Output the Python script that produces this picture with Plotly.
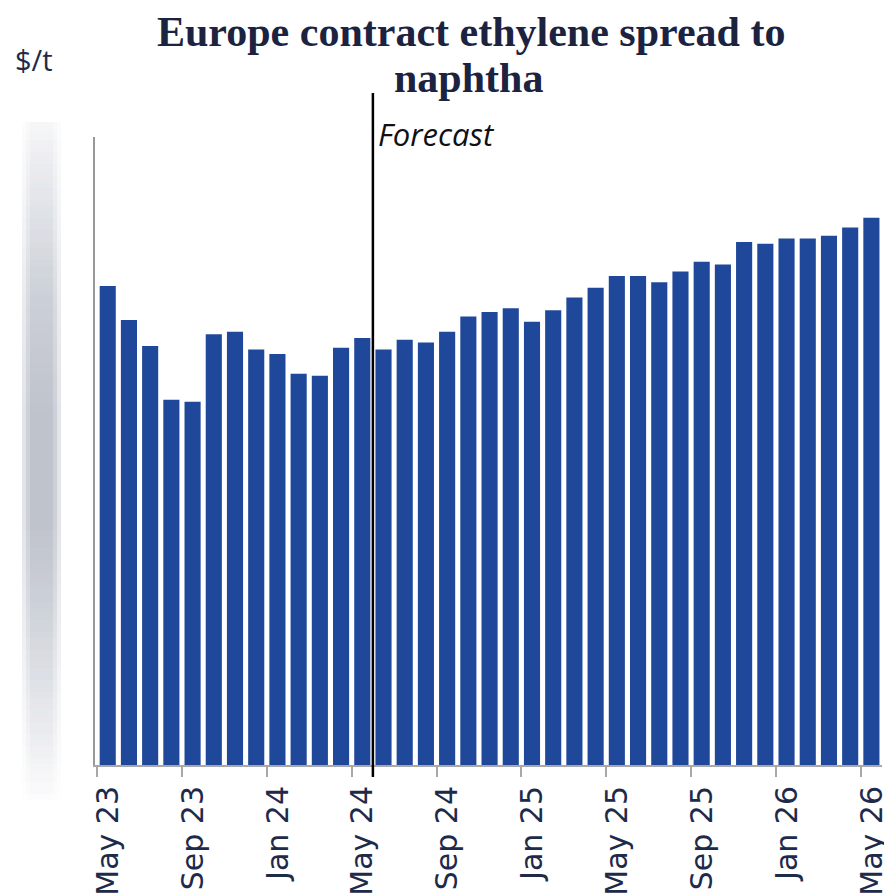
import plotly.graph_objects as go
import numpy as np

# ---- data ----
months = ["May 23", "Jun 23", "Jul 23", "Aug 23", "Sep 23", "Oct 23", "Nov 23", "Dec 23",
          "Jan 24", "Feb 24", "Mar 24", "Apr 24", "May 24", "Jun 24", "Jul 24", "Aug 24",
          "Sep 24", "Oct 24", "Nov 24", "Dec 24", "Jan 25", "Feb 25", "Mar 25", "Apr 25",
          "May 25", "Jun 25", "Jul 25", "Aug 25", "Sep 25", "Oct 25", "Nov 25", "Dec 25",
          "Jan 26", "Feb 26", "Mar 26", "Apr 26", "May 26"]
spread = [534, 496, 467, 407, 405, 480, 483, 463, 458, 436, 434, 465, 476,
          463, 474, 471, 483, 500, 505, 509, 494, 507, 521, 532, 545, 545,
          538, 550, 561, 558, 583, 581, 587, 587, 590, 599, 610]
tick_labels = ["May 23", "Sep 23", "Jan 24", "May 24", "Sep 24", "Jan 25",
               "May 25", "Sep 25", "Jan 26", "May 26"]
forecast_start = "Jun 24"
title_lines = ["Europe contract ethylene spread to", "naphtha"]

# page geometry (the page body adds an 8px offset to the figure)
OFF = 8
PAGE_W, PAGE_H = 892, 895
W, H = PAGE_W - OFF, PAGE_H - OFF
PL, PR, PT, PB = 95, 882, 137, 765          # plot area in page pixels
ML, MR, MT, MB = PL - OFF, W - (PR - OFF), PT - OFF, H - (PB - OFF)
PW, PH = PR - PL, PB - PT

x_pos = [i + 0.5 for i in range(len(months))]
tick_pos = [months.index(t) for t in tick_labels]
fc_pos = months.index(forecast_start)

fig = go.Figure()
fig.add_trace(go.Bar(
    x=x_pos, y=spread, width=0.76,
    marker=dict(color="#20489a", line=dict(width=0)),
    customdata=months, hovertemplate="%{customdata}: %{y} $/t<extra></extra>",
))

def px_x(p):
    return (p - PL) / PW

def px_y(p):
    return (PB - p) / PH

shapes = []
# blurred (obscured) y-axis label band
stops_y = [122, 200, 300, 420, 520, 620, 720, 795]
stops_a = [0.06, 0.22, 0.45, 0.62, 0.62, 0.40, 0.17, 0.03]
step = 6
for y0 in range(122, 795, step):
    a = float(np.interp(y0 + step / 2, stops_y, stops_a))
    for (xa, xb, f) in [(22, 61, 0.45), (26, 57, 0.45), (30, 53, 0.4)]:
        shapes.append(dict(type="rect", xref="paper", yref="paper",
                           x0=px_x(xa), x1=px_x(xb), y0=px_y(y0 + step), y1=px_y(y0),
                           fillcolor=f"rgba(150,157,172,{a * f:.3f})",
                           line=dict(width=0), layer="below"))
# forecast divider
shapes.append(dict(type="line", xref="x", yref="paper", x0=fc_pos, x1=fc_pos,
                   y0=px_y(777), y1=px_y(93), line=dict(color="black", width=2.5)))

TS = 42
title_font = dict(family="Liberation Serif", size=TS, color="#1c2341", weight="bold")
# annotation box centre sits ~0.3375 em above the baseline for this font
c1 = 46 - 0.3375 * TS
c2 = 92 - 0.3375 * TS

fig.update_layout(
    width=W, height=H,
    margin=dict(l=ML, r=MR, t=MT, b=MB, pad=0, autoexpand=False),
    paper_bgcolor="white", plot_bgcolor="white",
    showlegend=False,
    bargap=0.24,
    shapes=shapes,
    xaxis=dict(
        range=[-0.1, len(months)], automargin=False,
        tickmode="array", tickvals=tick_pos, ticktext=tick_labels,
        tickangle=-90, ticks="outside", ticklen=10, tickwidth=2, tickcolor="#a8a8a8",
        ticklabelshift=11, ticklabelstandoff=-3,
        showline=True, linecolor="#a8a8a8", linewidth=2,
        showgrid=False, zeroline=False,
        tickfont=dict(family="DejaVu Sans", size=30, color="#1e2a4a"),
    ),
    yaxis=dict(
        range=[0, 700], showticklabels=False, ticks="", automargin=False,
        showline=True, linecolor="#999999", linewidth=2,
        showgrid=False, zeroline=False,
    ),
    annotations=[
        dict(text="<b>" + title_lines[0] + "</b>", xref="paper", yref="paper",
             x=px_x(471), y=px_y(c1), xanchor="center", yanchor="middle",
             showarrow=False, font=title_font),
        dict(text="<b>" + title_lines[1] + "</b>", xref="paper", yref="paper",
             x=px_x(468), y=px_y(c2), xanchor="center", yanchor="middle",
             showarrow=False, font=title_font),
        dict(text="$/t", xref="paper", yref="paper", x=px_x(13), y=px_y(81),
             xanchor="left", yanchor="bottom", showarrow=False,
             font=dict(family="Open Sans", size=29, color="#1e2a4a")),
        dict(text="<i>Forecast</i>", xref="x", yref="paper", x=fc_pos, y=px_y(157),
             xanchor="left", yanchor="bottom", xshift=3, showarrow=False,
             font=dict(family="Open Sans", size=31, color="#111111")),
    ],
)

fig.write_html("out.html")
